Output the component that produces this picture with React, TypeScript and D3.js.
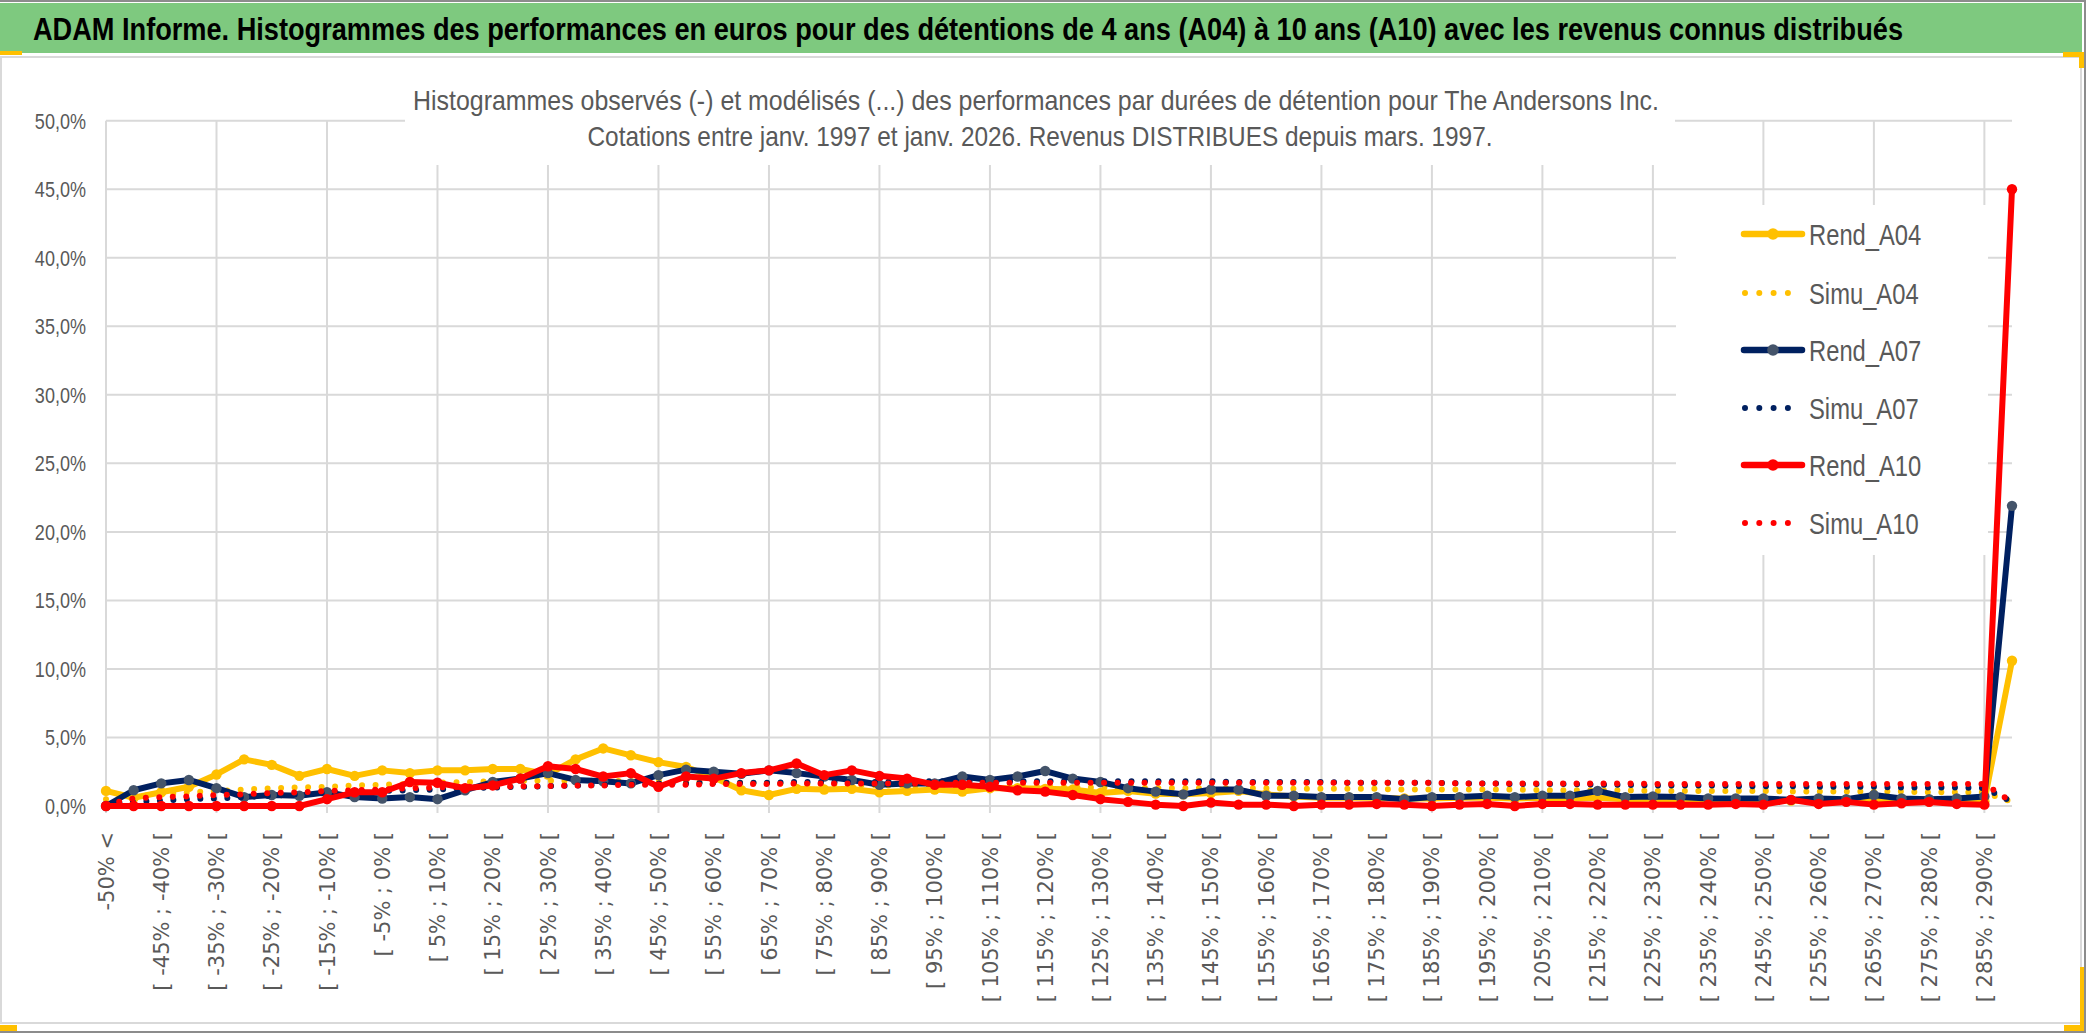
import React, { useEffect } from "react";
import * as d3 from "d3";

// ---------- DATA ----------
const categories: string[] = [
  "-50% <",
  "[ -50% ; -45% [", "[ -45% ; -40% [", "[ -40% ; -35% [", "[ -35% ; -30% [", "[ -30% ; -25% [",
  "[ -25% ; -20% [", "[ -20% ; -15% [", "[ -15% ; -10% [", "[ -10% ; -5% [", "[ -5% ; 0% [",
  "[ 0% ; 5% [", "[ 5% ; 10% [", "[ 10% ; 15% [", "[ 15% ; 20% [", "[ 20% ; 25% [",
  "[ 25% ; 30% [", "[ 30% ; 35% [", "[ 35% ; 40% [", "[ 40% ; 45% [", "[ 45% ; 50% [",
  "[ 50% ; 55% [", "[ 55% ; 60% [", "[ 60% ; 65% [", "[ 65% ; 70% [", "[ 70% ; 75% [",
  "[ 75% ; 80% [", "[ 80% ; 85% [", "[ 85% ; 90% [", "[ 90% ; 95% [", "[ 95% ; 100% [",
  "[ 100% ; 105% [", "[ 105% ; 110% [", "[ 110% ; 115% [", "[ 115% ; 120% [", "[ 120% ; 125% [",
  "[ 125% ; 130% [", "[ 130% ; 135% [", "[ 135% ; 140% [", "[ 140% ; 145% [", "[ 145% ; 150% [",
  "[ 150% ; 155% [", "[ 155% ; 160% [", "[ 160% ; 165% [", "[ 165% ; 170% [", "[ 170% ; 175% [",
  "[ 175% ; 180% [", "[ 180% ; 185% [", "[ 185% ; 190% [", "[ 190% ; 195% [", "[ 195% ; 200% [",
  "[ 200% ; 205% [", "[ 205% ; 210% [", "[ 210% ; 215% [", "[ 215% ; 220% [", "[ 220% ; 225% [",
  "[ 225% ; 230% [", "[ 230% ; 235% [", "[ 235% ; 240% [", "[ 240% ; 245% [", "[ 245% ; 250% [",
  "[ 250% ; 255% [", "[ 255% ; 260% [", "[ 260% ; 265% [", "[ 265% ; 270% [", "[ 270% ; 275% [",
  "[ 275% ; 280% [", "[ 280% ; 285% [", "[ 285% ; 290% [",
  "> 290%",
];

const yTickValues: number[] = [0, 5, 10, 15, 20, 25, 30, 35, 40, 45, 50];

// values in %
const rendA04: number[] = [
  1.1, 0.6, 1.0, 1.4, 2.3, 3.4, 3.0, 2.2, 2.7, 2.2,
  2.6, 2.4, 2.6, 2.6, 2.7, 2.7, 2.3, 3.4, 4.2, 3.7,
  3.2, 2.85, 2.1, 1.15, 0.8, 1.25, 1.2, 1.25, 1.0, 1.1,
  1.2, 1.05, 1.3, 1.3, 1.25, 1.2, 0.95, 1.1, 0.9, 0.85,
  0.95, 1.1, 0.85, 0.7, 0.6, 0.6, 0.6, 0.55, 0.55, 0.6,
  0.6, 0.55, 0.6, 0.55, 0.6, 0.5, 0.45, 0.5, 0.4, 0.45,
  0.4, 0.4, 0.45, 0.4, 0.5, 0.4, 0.35, 0.4, 0.35, 10.6,
];
const simuA04: number[] = [
  0.5, 0.7, 0.85, 1.0, 1.1, 1.2, 1.3, 1.35, 1.4, 1.5,
  1.55, 1.6, 1.7, 1.75, 1.8, 1.85, 1.85, 1.85, 1.85, 1.8,
  1.8, 1.75, 1.7, 1.7, 1.65, 1.6, 1.6, 1.55, 1.5, 1.5,
  1.45, 1.45, 1.4, 1.4, 1.4, 1.35, 1.35, 1.35, 1.3, 1.3,
  1.3, 1.3, 1.3, 1.25, 1.25, 1.25, 1.25, 1.2, 1.2, 1.2,
  1.2, 1.2, 1.15, 1.15, 1.15, 1.15, 1.1, 1.1, 1.1, 1.1,
  1.1, 1.05, 1.05, 1.05, 1.05, 1.05, 1.0, 1.0, 1.0, 0.3,
];
const rendA07: number[] = [
  0.0, 1.15, 1.65, 1.9, 1.3, 0.65, 0.8, 0.75, 1.0, 0.65,
  0.55, 0.65, 0.5, 1.15, 1.75, 2.0, 2.4, 1.9, 1.8, 1.65,
  2.25, 2.65, 2.5, 2.35, 2.6, 2.4, 2.15, 1.9, 1.55, 1.65,
  1.65, 2.15, 1.9, 2.15, 2.55, 2.0, 1.75, 1.3, 1.05, 0.85,
  1.2, 1.2, 0.75, 0.75, 0.65, 0.65, 0.65, 0.5, 0.65, 0.65,
  0.75, 0.65, 0.75, 0.75, 1.1, 0.65, 0.7, 0.65, 0.55, 0.55,
  0.55, 0.45, 0.55, 0.5, 0.8, 0.55, 0.5, 0.55, 0.7, 21.9,
];
const simuA07: number[] = [
  0.15, 0.3, 0.4, 0.5, 0.55, 0.65, 0.75, 0.85, 0.95, 1.05,
  1.1, 1.15, 1.2, 1.3, 1.35, 1.4, 1.45, 1.5, 1.55, 1.6,
  1.65, 1.65, 1.7, 1.7, 1.7, 1.75, 1.75, 1.75, 1.75, 1.8,
  1.8, 1.8, 1.8, 1.8, 1.8, 1.8, 1.8, 1.8, 1.8, 1.8,
  1.8, 1.75, 1.75, 1.75, 1.75, 1.7, 1.7, 1.7, 1.7, 1.65,
  1.65, 1.6, 1.6, 1.6, 1.55, 1.55, 1.5, 1.5, 1.5, 1.45,
  1.45, 1.45, 1.4, 1.4, 1.4, 1.35, 1.35, 1.35, 1.3, 0.3,
];
const rendA10: number[] = [
  0.0, 0.0, 0.0, 0.0, 0.0, 0.0, 0.0, 0.0, 0.5, 1.0,
  1.0, 1.75, 1.7, 1.3, 1.5, 2.0, 2.9, 2.7, 2.15, 2.4,
  1.4, 2.15, 2.0, 2.4, 2.6, 3.1, 2.25, 2.6, 2.2, 2.0,
  1.55, 1.55, 1.4, 1.15, 1.05, 0.8, 0.5, 0.3, 0.1, 0.0,
  0.25, 0.1, 0.1, 0.0, 0.1, 0.1, 0.15, 0.1, 0.0, 0.1,
  0.15, 0.0, 0.15, 0.15, 0.1, 0.1, 0.1, 0.1, 0.1, 0.15,
  0.1, 0.45, 0.15, 0.3, 0.1, 0.2, 0.3, 0.15, 0.1, 45.0,
];
const simuA10: number[] = [
  0.1, 0.55, 0.65, 0.7, 0.8, 0.85, 0.95, 1.0, 1.1, 1.15,
  1.2, 1.3, 1.35, 1.4, 1.4, 1.45, 1.45, 1.5, 1.5, 1.55,
  1.55, 1.55, 1.6, 1.6, 1.6, 1.65, 1.65, 1.65, 1.65, 1.65,
  1.65, 1.7, 1.7, 1.7, 1.7, 1.7, 1.7, 1.7, 1.7, 1.7,
  1.7, 1.7, 1.7, 1.7, 1.7, 1.7, 1.7, 1.7, 1.7, 1.65,
  1.65, 1.65, 1.65, 1.65, 1.65, 1.65, 1.6, 1.6, 1.6, 1.6,
  1.6, 1.6, 1.6, 1.6, 1.6, 1.6, 1.6, 1.6, 1.6, 0.3,
];

const seriesNames: string[] = ["Rend_A04", "Simu_A04", "Rend_A07", "Simu_A07", "Rend_A10", "Simu_A10"];

const mainTitle =
  "ADAM Informe. Histogrammes des performances en euros pour des détentions de 4 ans (A04) à 10 ans (A10) avec les revenus connus distribués";
const chartTitle1 =
  "Histogrammes observés (-) et modélisés (...) des performances par durées de détention pour The Andersons Inc.";
const chartTitle2 =
  "Cotations entre janv. 1997 et janv. 2026.  Revenus DISTRIBUES depuis mars. 1997.";

// ---------- STYLE ----------
const W = 2086;
const H = 1033;
const CAL = '"Liberation Sans", Arial, sans-serif';
const WIDE = '"DejaVu Sans", Verdana, sans-serif';
const GRID = "#D9D9D9";
const TXT = "#595959";
const NARROW_SCALE = 0.82;

type Series = { name: string; values: number[]; kind: "rend" | "simu"; color: string; marker?: string };
const series: Series[] = [
  { name: seriesNames[0], values: rendA04, kind: "rend", color: "#FFC000", marker: "#FFC000" },
  { name: seriesNames[1], values: simuA04, kind: "simu", color: "#FFC000" },
  { name: seriesNames[2], values: rendA07, kind: "rend", color: "#002060", marker: "#44546A" },
  { name: seriesNames[3], values: simuA07, kind: "simu", color: "#002060" },
  { name: seriesNames[4], values: rendA10, kind: "rend", color: "#FF0000", marker: "#FF0000" },
  { name: seriesNames[5], values: simuA10, kind: "simu", color: "#FF0000" },
];

const frFormat = d3.formatLocale({ decimal: ",", thousands: " ", grouping: [3], currency: ["", " €"] }).format(".1%");

export default function App() {
  useEffect(() => {
    document.body.style.margin = "0";
    document.body.style.background = "#ffffff";
  }, []);

  const x = d3.scalePoint<string>().domain(categories).range([106, 2012]);
  const y = d3.scaleLinear().domain([0, 0.5]).range([806, 120.7]);
  const xi = (i: number) => x(categories[i]) as number;

  const line = d3
    .line<number>()
    .x((_, i) => xi(i))
    .y((d) => y(d / 100));

  const legendRows = [234, 293, 350, 408, 465, 523];

  return (
    <svg
      width={W}
      height={H}
      viewBox={`0 0 ${W} ${H}`}
      style={{ display: "block", position: "absolute", left: 0, top: 0, background: "#fff" }}
    >
      {/* frame & header band */}
      <rect x={0} y={0} width={W} height={H} fill="#ffffff" />
      <rect x={0} y={3} width={2082} height={50} fill="#7EC97F" />
      <line x1={0} x2={W} y1={1} y2={1} stroke="#8C8C8C" strokeWidth={2} />
      <rect x={1} y={57} width={2080} height={966} fill="none" stroke={GRID} strokeWidth={2} />
      <line x1={0} x2={W} y1={1032} y2={1032} stroke="#8C8C8C" strokeWidth={2} />
      <line x1={2085} x2={2085} y1={0} y2={H} stroke="#8C8C8C" strokeWidth={2} />
      <rect x={0} y={51} width={22} height={4} fill="#FFC000" />
      <rect x={2063} y={52} width={20} height={5} fill="#FFC000" />
      <rect x={2079} y={52} width={5} height={16} fill="#FFC000" />
      <rect x={0} y={1025} width={17} height={6} fill="#FFC000" />
      <rect x={2064} y={1025} width={20} height={6} fill="#FFC000" />
      <rect x={2080} y={967} width={4} height={64} fill="#FFC000" />

      <g transform="translate(33,40) scale(1,1.2)">
        <text
          x={0}
          y={0}
          fontFamily={CAL}
          fontWeight="bold"
          fontSize={26}
          fill="#000000"
          textLength={1870}
          lengthAdjust="spacingAndGlyphs"
        >
          {mainTitle}
        </text>
      </g>

      {/* horizontal gridlines */}
      {yTickValues.map((t) => (
        <line key={"h" + t} x1={106} x2={2012} y1={y(t / 100)} y2={y(t / 100)} stroke={GRID} strokeWidth={2} />
      ))}
      {/* vertical gridlines + ticks */}
      {categories.map((c, i) =>
        i % 4 === 0 && i <= 68 ? (
          <line key={"v" + i} x1={xi(i)} x2={xi(i)} y1={y(0.5)} y2={813} stroke={GRID} strokeWidth={2} />
        ) : null
      )}

      {/* y axis labels */}
      {yTickValues.map((t) => (
        <g key={"yl" + t} transform={`translate(86,${y(t / 100) + 8}) scale(${NARROW_SCALE},1)`}>
          <text x={0} y={0} textAnchor="end" fontFamily={CAL} fontSize={22} fill={TXT}>
            {frFormat(t / 100)}
          </text>
        </g>
      ))}

      {/* x axis labels */}
      {categories.map((c, i) =>
        i % 2 === 0 ? (
          <text
            key={"xl" + i}
            transform={`translate(${xi(i)},832) rotate(-90)`}
            textAnchor="end"
            dy="0.36em"
            fontFamily={WIDE}
            fontSize={21}
            fill={TXT}
          >
            {c}
          </text>
        ) : null
      )}

      {/* chart title box */}
      <rect x={405} y={62} width={1270} height={103} fill="#ffffff" />
      <text x={1036} y={110} textAnchor="middle" fontFamily={CAL} fontSize={28} fill={TXT} textLength={1246} lengthAdjust="spacingAndGlyphs">
        {chartTitle1}
      </text>
      <text x={1040} y={146} textAnchor="middle" fontFamily={CAL} fontSize={28} fill={TXT} textLength={905} lengthAdjust="spacingAndGlyphs">
        {chartTitle2}
      </text>

      {/* legend box */}
      <rect x={1676} y={205} width={312} height={350} fill="#ffffff" />

      {/* series */}
      {series.map((s) =>
        s.kind === "rend" ? (
          <g key={s.name}>
            <path d={line(s.values) || ""} fill="none" stroke={s.color} strokeWidth={6} strokeLinejoin="round" strokeLinecap="round" />
            {s.values.map((v, i) => (
              <circle key={i} cx={xi(i)} cy={y(v / 100)} r={5.2} fill={s.marker} />
            ))}
          </g>
        ) : (
          <path
            key={s.name}
            d={line(s.values) || ""}
            fill="none"
            stroke={s.color}
            strokeWidth={6}
            strokeDasharray="0 13.5"
            strokeLinecap="round"
          />
        )
      )}

      {/* legend */}
      {series.map((s, k) => (
        <g key={"lg" + s.name}>
          {s.kind === "rend" ? (
            <>
              <line x1={1744} x2={1802} y1={legendRows[k]} y2={legendRows[k]} stroke={s.color} strokeWidth={6.5} strokeLinecap="round" />
              <circle cx={1773} cy={legendRows[k]} r={5.8} fill={s.marker} />
            </>
          ) : (
            <line
              x1={1745}
              x2={k === 5 ? 1802 : 1790}
              y1={legendRows[k]}
              y2={legendRows[k]}
              stroke={s.color}
              strokeWidth={6}
              strokeDasharray="0 14.3"
              strokeLinecap="round"
            />
          )}
          <g transform={`translate(1809,${legendRows[k] + 10.5}) scale(${NARROW_SCALE},1)`}>
            <text x={0} y={0} fontFamily={CAL} fontSize={29} fill={TXT}>
              {s.name}
            </text>
          </g>
        </g>
      ))}
    </svg>
  );
}
